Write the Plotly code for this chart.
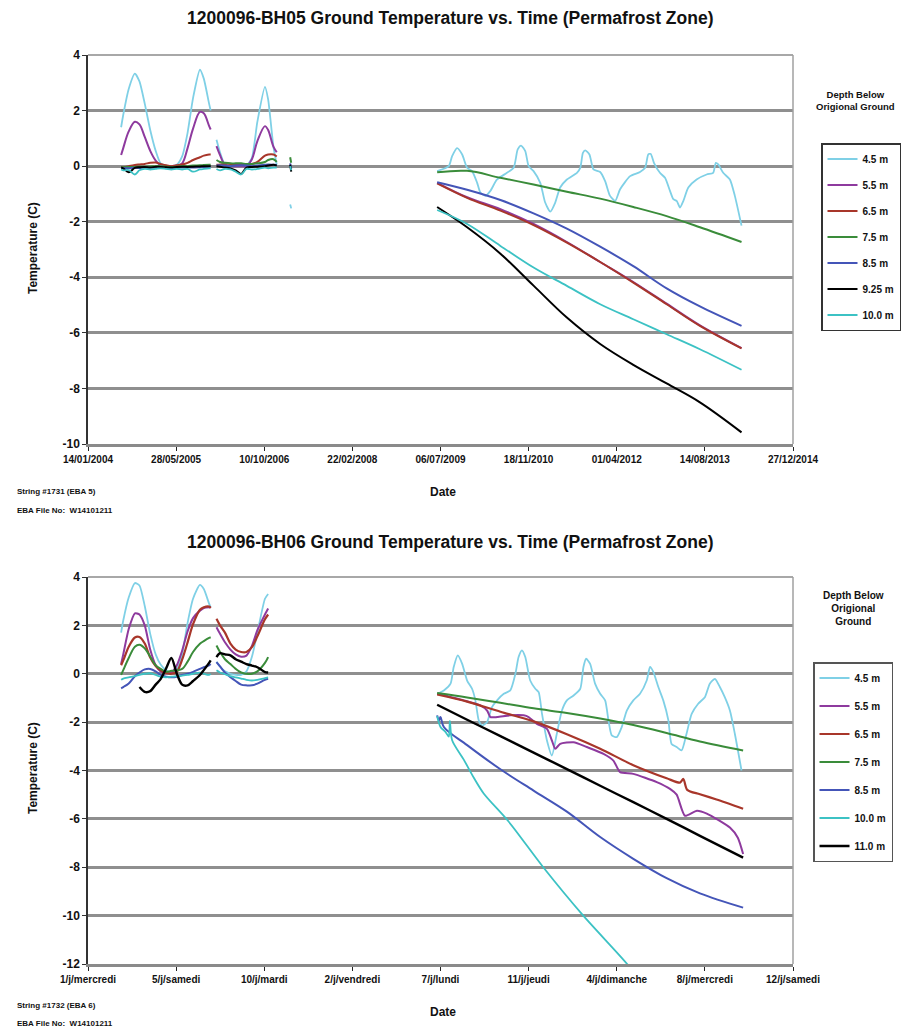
import plotly.graph_objects as go

# ---------------- shared date grids ----------------
EARLY_A_DATES = ["2004-07-20", "2004-08-01", "2004-09-01", "2004-10-06", "2004-11-01", "2004-12-01",
                 "2005-01-01", "2005-02-01", "2005-03-01", "2005-04-01", "2005-05-01", "2005-06-01",
                 "2005-07-01", "2005-08-01", "2005-09-01", "2005-10-10", "2005-11-01", "2005-12-01",
                 "2005-12-10"]
EARLY_B_DATES = ["2006-01-12", "2006-02-01", "2006-03-01", "2006-04-01", "2006-05-01", "2006-06-01",
                 "2006-07-01", "2006-08-01", "2006-09-01", "2006-10-14", "2006-11-01", "2006-12-01",
                 "2006-12-20"]
BLIP_DATES = ["2007-03-06", "2007-03-12"]
LATE_DATES_TOP = ["2009-06-17", "2009-12-04", "2010-06-11", "2010-12-16", "2011-06-23", "2011-12-29",
                  "2012-07-04", "2013-01-09", "2013-07-17", "2014-03-10"]
LATE_DATES_BOT = ["2009-06-17", "2009-12-04", "2010-06-11", "2010-12-16", "2011-06-23", "2011-12-29",
                  "2012-07-04", "2013-01-09", "2013-07-17", "2014-03-19"]

TICK_DATES = ["2004-01-14", "2005-05-28", "2006-10-10", "2008-02-22", "2009-07-06",
              "2010-11-18", "2012-04-01", "2013-08-14", "2014-12-27"]
TICK_TEXT_TOP = ["14/01/2004", "28/05/2005", "10/10/2006", "22/02/2008", "06/07/2009",
                 "18/11/2010", "01/04/2012", "14/08/2013", "27/12/2014"]
TICK_TEXT_BOT = ["1/j/mercredi", "5/j/samedi", "10/j/mardi", "2/j/vendredi", "7/j/lundi",
                 "11/j/jeudi", "4/j/dimanche", "8/j/mercredi", "12/j/samedi"]
Y_TICKS_TOP = [-10, -8, -6, -4, -2, 0, 2, 4]
Y_TICKS_BOT = [-12, -10, -8, -6, -4, -2, 0, 2, 4]

# ---------------- BH05 (top) ----------------
T45_A = [1.4, 1.85, 2.78, 3.33, 3.05, 2.25, 1.3, 0.55, 0.1, 0.02, 0.0, 0.05, 0.35, 1.2, 2.45, 3.47, 3.15, 2.25, 2.0]
T45_B = [0.95, 0.5, 0.05, 0.0, 0.0, 0.0, 0.02, 0.3, 1.6, 2.85, 2.4, 0.7, 0.05]
T45_BLIP = [-1.38, -1.52]
T45_LATE_DATES = ["2009-06-17", "2009-08-22", "2009-09-10", "2009-10-08", "2009-11-06", "2009-12-04",
                  "2010-01-01", "2010-01-30", "2010-02-17", "2010-03-18", "2010-04-15", "2010-05-23",
                  "2010-07-18", "2010-08-25", "2010-09-17", "2010-10-06", "2010-10-30", "2010-11-18",
                  "2010-12-16", "2011-01-23", "2011-02-20", "2011-03-21", "2011-04-18", "2011-05-16",
                  "2011-06-23", "2011-08-19", "2011-09-07", "2011-09-22", "2011-10-05", "2011-10-29",
                  "2011-11-21", "2011-12-29", "2012-01-26", "2012-02-23", "2012-03-23", "2012-04-20",
                  "2012-06-16", "2012-08-11", "2012-09-09", "2012-09-27", "2012-10-11", "2012-10-29",
                  "2012-12-02", "2012-12-31", "2013-01-28", "2013-02-16", "2013-03-07", "2013-03-26",
                  "2013-04-14", "2013-05-12", "2013-06-28", "2013-08-24", "2013-09-30", "2013-10-15",
                  "2013-10-29", "2013-11-26", "2014-01-03", "2014-01-31", "2014-03-10"]
T45_LATE = [-0.18, 0.0, 0.36, 0.65, 0.42, -0.06, -0.18, -0.6, -0.95, -1.07, -0.89, -0.48,
            -0.24, -0.06, 0.6, 0.74, 0.54, 0.0, -0.18, -0.6, -1.31, -1.64, -1.31, -0.77,
            -0.48, -0.24, -0.06, 0.48, 0.57, 0.42, -0.12, -0.21, -0.54, -1.07, -1.25, -0.83,
            -0.36, -0.21, -0.06, 0.42, 0.44, 0.12, -0.24, -0.42, -0.89, -1.19, -1.25, -1.49,
            -1.25, -0.77, -0.48, -0.30, -0.24, 0.12, 0.06, -0.24, -0.48, -1.07, -2.14]

T55_A = [0.4, 0.65, 1.25, 1.6, 1.5, 1.05, 0.55, 0.2, 0.03, 0.0, 0.0, 0.02, 0.1, 0.65, 1.35, 1.95, 1.9, 1.45, 1.32]
T55_B = [0.72, 0.4, 0.05, 0.0, 0.0, 0.0, 0.0, 0.25, 0.9, 1.44, 1.3, 0.7, 0.5]
T55_LATE = [-0.6, -1.12, -1.55, -2.08, -2.73, -3.45, -4.17, -4.95, -5.73, -6.55]

T65_A = [-0.06, -0.04, 0.0, 0.04, 0.06, 0.08, 0.12, 0.13, 0.08, 0.03, 0.0, 0.03, 0.06, 0.12, 0.22, 0.32, 0.38, 0.42, 0.42]
T65_B = [0.05, 0.06, 0.08, 0.08, 0.06, 0.05, 0.06, 0.08, 0.15, 0.38, 0.42, 0.42, 0.35]
T65_LATE = [-0.62, -1.14, -1.6, -2.12, -2.75, -3.45, -4.19, -4.97, -5.75, -6.56]

T75_A = [-0.05, -0.04, -0.03, -0.03, -0.02, -0.02, -0.01, 0.0, 0.0, -0.02, -0.03, -0.02, 0.0, 0.0, 0.02, 0.03, 0.04, 0.05, 0.05]
T75_B = [0.22, 0.15, 0.12, 0.1, 0.1, 0.1, 0.08, 0.08, 0.1, 0.15, 0.22, 0.25, 0.15]
T75_BLIP = [0.32, 0.12]
T75_LATE = [-0.22, -0.17, -0.42, -0.66, -0.92, -1.17, -1.47, -1.80, -2.2, -2.73]

T85_A = [-0.08, -0.07, -0.08, -0.06, -0.07, -0.05, -0.06, -0.05, -0.06, -0.07, -0.08, -0.06, -0.05, -0.04, -0.05, -0.04, -0.03, -0.02, -0.02]
T85_B = [0.02, 0.03, 0.02, 0.0, 0.02, 0.03, 0.02, 0.0, 0.02, 0.05, 0.06, 0.05, 0.04]
T85_BLIP = [0.1, -0.1]
T85_LATE = [-0.58, -0.85, -1.22, -1.7, -2.25, -2.9, -3.6, -4.4, -5.05, -5.75]

T925_A = [-0.05, -0.08, -0.22, -0.06, -0.04, -0.03, -0.05, -0.02, -0.03, -0.04, -0.05, -0.03, -0.02, -0.03, -0.02, -0.01, 0.0, 0.0, 0.01]
T925_B = [0.0, -0.02, -0.05, -0.08, -0.15, -0.28, -0.05, -0.03, -0.02, 0.0, 0.02, 0.05, 0.02]
T925_BLIP = [0.05, -0.2]
T925_LATE = [-1.47, -2.2, -3.15, -4.3, -5.45, -6.4, -7.15, -7.82, -8.5, -9.58]

T100_A = [-0.12, -0.15, -0.14, -0.3, -0.15, -0.1, -0.12, -0.1, -0.08, -0.1, -0.12, -0.1, -0.12, -0.1, -0.2, -0.12, -0.1, -0.08, -0.08]
T100_B = [-0.1, -0.15, -0.1, -0.12, -0.2, -0.3, -0.1, -0.12, -0.1, -0.05, -0.08, -0.05, -0.05]
T100_BLIP = [0.0, -0.15]
T100_LATE = [-1.58, -2.08, -2.87, -3.65, -4.31, -4.97, -5.51, -6.05, -6.59, -7.33]

# ---------------- BH06 (bottom) ----------------
EARLY_B_DATES_BOT = EARLY_B_DATES[:11]

B45_A = [1.7, 2.2, 3.15, 3.75, 3.65, 2.8, 1.65, 0.8, 0.38, 0.15, 0.08, 0.2, 0.8, 2.1, 3.1, 3.67, 3.5, 2.9, 2.75]
B45_B = [0.5, 0.3, 0.1, 0.0, -0.05, -0.05, 0.1, 0.7, 1.7, 3.1, 3.3]
B45_LATE_DATES = ["2009-06-17", "2009-07-25", "2009-09-01", "2009-09-19", "2009-10-12", "2009-11-06",
                  "2009-12-04", "2010-01-01", "2010-01-20", "2010-02-08", "2010-02-27", "2010-03-27",
                  "2010-04-24", "2010-05-23", "2010-06-30", "2010-08-06", "2010-09-04", "2010-09-22",
                  "2010-10-11", "2010-10-30", "2010-11-27", "2010-12-26", "2011-01-14", "2011-02-02",
                  "2011-03-02", "2011-03-30", "2011-04-27", "2011-05-26", "2011-06-23", "2011-07-31",
                  "2011-09-07", "2011-09-25", "2011-10-10", "2011-11-02", "2011-11-30", "2011-12-29",
                  "2012-01-26", "2012-02-14", "2012-03-04", "2012-04-01", "2012-04-29", "2012-05-28",
                  "2012-07-04", "2012-08-11", "2012-09-18", "2012-10-07", "2012-10-26", "2012-11-23",
                  "2012-12-21", "2013-01-19", "2013-02-06", "2013-03-07", "2013-04-04", "2013-05-02",
                  "2013-05-31", "2013-07-07", "2013-08-14", "2013-09-11", "2013-10-10", "2013-11-07",
                  "2013-12-05", "2014-01-03", "2014-01-31", "2014-03-10"]
B45_LATE = [-0.83, -0.69, -0.41, 0.28, 0.76, 0.41, -0.28, -0.62, -1.10, -1.93, -2.14, -2.0,
            -1.38, -1.10, -0.83, -0.69, 0.0, 0.69, 0.97, 0.69, -0.28, -0.62, -0.76, -1.66,
            -2.76, -3.38, -2.48, -1.52, -1.10, -0.90, -0.62, 0.28, 0.62, 0.41, -0.41, -0.83,
            -1.10, -1.93, -2.55, -2.62, -2.21, -1.52, -1.10, -0.83, -0.28, 0.28, 0.07, -0.55,
            -1.10, -1.93, -2.90, -3.03, -3.17, -2.48, -1.66, -1.24, -0.97, -0.41, -0.21, -0.55,
            -0.97, -1.52, -2.48, -4.0]

B55_A = [0.4, 0.8, 1.85, 2.5, 2.45, 2.0, 1.0, 0.35, 0.1, 0.02, 0.05, 0.35, 0.95, 1.75, 2.3, 2.61, 2.72, 2.75, 2.75]
B55_B = [1.92, 1.65, 1.3, 1.0, 0.8, 0.7, 0.75, 1.15, 1.8, 2.45, 2.7]
B55_LATE_DATES = ["2009-06-17", "2009-11-15", "2010-02-17", "2010-03-27", "2010-04-15", "2010-05-23",
                  "2010-08-06", "2010-10-21", "2010-11-18", "2011-01-04", "2011-03-02", "2011-03-30",
                  "2011-04-18", "2011-05-16", "2011-07-31", "2011-10-14", "2012-01-17", "2012-03-13",
                  "2012-04-20", "2012-07-04", "2012-11-14", "2013-01-28", "2013-03-07", "2013-04-23",
                  "2013-06-30", "2013-08-25", "2014-01-03", "2014-02-17", "2014-03-19"]
B55_LATE = [-0.83, -1.10, -1.31, -1.52, -1.79, -1.79, -1.72, -1.72, -1.79, -2.07, -2.28, -2.76,
            -3.10, -2.90, -2.83, -3.03, -3.31, -3.59, -4.07, -4.14, -4.48, -4.76, -5.0, -5.87,
            -5.66, -5.78, -6.36, -6.78, -7.45]

B65_A = [0.35, 0.55, 1.12, 1.5, 1.52, 1.25, 0.67, 0.32, 0.14, 0.03, 0.0, 0.08, 0.58, 1.3, 2.05, 2.65, 2.75, 2.78, 2.72]
B65_B = [2.27, 2.0, 1.7, 1.25, 1.0, 0.9, 0.9, 1.1, 1.55, 2.25, 2.45]
B65_LATE_DATES = ["2009-06-17", "2009-12-04", "2010-06-11", "2010-12-16", "2011-06-23", "2011-12-29",
                  "2012-07-04", "2013-01-09", "2013-03-26", "2013-04-14", "2013-05-06", "2013-07-17",
                  "2013-10-19", "2014-03-19"]
B65_LATE = [-0.86, -1.15, -1.57, -1.97, -2.5, -3.1, -3.78, -4.32, -4.5, -4.35, -4.8, -4.98, -5.2, -5.58]

B75_A = [-0.05, 0.15, 0.65, 1.12, 1.2, 1.05, 0.7, 0.35, 0.2, 0.08, 0.12, 0.14, 0.2, 0.5, 0.9, 1.24, 1.35, 1.48, 1.51]
B75_B = [1.17, 0.9, 0.6, 0.4, 0.2, 0.05, 0.0, 0.0, 0.1, 0.45, 0.69]
B75_LATE = [-0.80, -0.98, -1.20, -1.43, -1.62, -1.85, -2.12, -2.45, -2.80, -3.17]

B85_A = [-0.6, -0.55, -0.4, -0.1, 0.05, 0.18, 0.2, 0.1, -0.05, -0.12, -0.14, -0.12, -0.05, 0.0, 0.08, 0.2, 0.27, 0.35, 0.4]
B85_B = [0.48, 0.3, 0.05, -0.14, -0.3, -0.45, -0.48, -0.48, -0.41, -0.25, -0.21]
B85_LATE_DATES = ["2009-06-17", "2009-06-27", "2009-07-06", "2009-07-25", "2009-12-04", "2010-06-11",
                  "2010-12-16", "2011-06-23", "2011-12-29", "2012-07-04", "2013-01-09", "2013-07-17",
                  "2014-03-19"]
B85_LATE = [-1.72, -1.93, -1.79, -2.2, -2.95, -3.95, -4.83, -5.7, -6.75, -7.65, -8.45, -9.08, -9.67]

B100_A = [-0.25, -0.2, -0.15, -0.1, -0.05, 0.0, 0.02, -0.05, -0.12, -0.15, -0.12, -0.1, -0.08, -0.05, 0.0, 0.05, 0.0, -0.05, 0.0]
B100_B = [0.14, 0.05, -0.02, -0.1, -0.15, -0.2, -0.25, -0.28, -0.25, -0.18, -0.15]
B100_LATE_DATES = ["2009-06-17", "2009-07-06", "2009-08-03", "2009-08-22", "2009-08-28", "2009-09-10",
                   "2009-11-15", "2010-01-11", "2010-03-08", "2010-07-26", "2011-02-09", "2011-09-24",
                   "2012-05-30", "2012-08-11"]
B100_LATE = [-1.75, -2.2, -2.4, -2.6, -1.95, -2.75, -3.55, -4.3, -4.95, -6.1, -8.0, -10.0, -12.0, -12.7]

B110_A = [None, None, None, None, -0.55, -0.75, -0.72, -0.45, -0.22, 0.22, 0.65, 0.0, -0.45, -0.48, -0.3, -0.05, 0.15, 0.45, 0.55]
B110_B = [0.69, 0.85, 0.8, 0.76, 0.6, 0.5, 0.4, 0.34, 0.27, 0.07, 0.05]
B110_LATE = [-1.28, -1.9, -2.58, -3.26, -3.94, -4.63, -5.31, -6.0, -6.7, -7.6]

# ---------------- styling ----------------
C45, C55, C65, C75, C85, CBLK, C100 = "#7fd0e6", "#8e3a9e", "#a8362a", "#3a8c3a", "#4455b8", "#000000", "#3cc2c4"
FONT = "Liberation Sans, Arial, sans-serif"
NARROW = "Liberation Sans Narrow, Liberation Sans, Arial, sans-serif"
W, H = 901, 1036


def build(segments):
    xs, ys = [], []
    for i, (d, v) in enumerate(segments):
        if i > 0:
            xs.append(d[0])
            ys.append(None)
        xs += list(d)
        ys += list(v)
    return xs, ys


fig = go.Figure()

top_series = [
    ("4.5 m", C45, 1.8, 0.6, [(EARLY_A_DATES, T45_A), (EARLY_B_DATES, T45_B), (BLIP_DATES, T45_BLIP), (T45_LATE_DATES, T45_LATE)]),
    ("5.5 m", C55, 2.0, 1.0, [(EARLY_A_DATES, T55_A), (EARLY_B_DATES, T55_B), (LATE_DATES_TOP, T55_LATE)]),
    ("6.5 m", C65, 2.0, 1.0, [(EARLY_A_DATES, T65_A), (EARLY_B_DATES, T65_B), (LATE_DATES_TOP, T65_LATE)]),
    ("7.5 m", C75, 2.0, 1.0, [(EARLY_A_DATES, T75_A), (EARLY_B_DATES, T75_B), (BLIP_DATES, T75_BLIP), (LATE_DATES_TOP, T75_LATE)]),
    ("8.5 m", C85, 2.0, 1.0, [(EARLY_A_DATES, T85_A), (EARLY_B_DATES, T85_B), (BLIP_DATES, T85_BLIP), (LATE_DATES_TOP, T85_LATE)]),
    ("9.25 m", CBLK, 2.0, 1.0, [(EARLY_A_DATES, T925_A), (EARLY_B_DATES, T925_B), (BLIP_DATES, T925_BLIP), (LATE_DATES_TOP, T925_LATE)]),
    ("10.0 m", C100, 1.8, 1.0, [(EARLY_A_DATES, T100_A), (EARLY_B_DATES, T100_B), (BLIP_DATES, T100_BLIP), (LATE_DATES_TOP, T100_LATE)]),
]
for i, (name, col, w, sm, segs) in enumerate(top_series):
    xs, ys = build(segs)
    fig.add_trace(go.Scatter(x=xs, y=ys, name=name, mode="lines", xaxis="x", yaxis="y",
                             line=dict(color=col, width=w, shape="spline", smoothing=sm),
                             connectgaps=False, legend="legend", legendgroup="t%d" % i))

bot_series = [
    ("4.5 m", C45, 1.8, 0.6, [(EARLY_A_DATES, B45_A), (EARLY_B_DATES_BOT, B45_B), (B45_LATE_DATES, B45_LATE)]),
    ("5.5 m", C55, 2.0, 0.6, [(EARLY_A_DATES, B55_A), (EARLY_B_DATES_BOT, B55_B), (B55_LATE_DATES, B55_LATE)]),
    ("6.5 m", C65, 2.2, 0.8, [(EARLY_A_DATES, B65_A), (EARLY_B_DATES_BOT, B65_B), (B65_LATE_DATES, B65_LATE)]),
    ("7.5 m", C75, 2.0, 1.0, [(EARLY_A_DATES, B75_A), (EARLY_B_DATES_BOT, B75_B), (LATE_DATES_BOT, B75_LATE)]),
    ("8.5 m", C85, 2.0, 1.0, [(EARLY_A_DATES, B85_A), (EARLY_B_DATES_BOT, B85_B), (B85_LATE_DATES, B85_LATE)]),
    ("10.0 m", C100, 1.8, 0.8, [(EARLY_A_DATES, B100_A), (EARLY_B_DATES_BOT, B100_B), (B100_LATE_DATES, B100_LATE)]),
    ("11.0 m", CBLK, 2.4, 0.8, [(EARLY_A_DATES, B110_A), (EARLY_B_DATES_BOT, B110_B), (LATE_DATES_BOT, B110_LATE)]),
]
for i, (name, col, w, sm, segs) in enumerate(bot_series):
    xs, ys = build(segs)
    fig.add_trace(go.Scatter(x=xs, y=ys, name=name, mode="lines", xaxis="x2", yaxis="y2",
                             line=dict(color=col, width=w, shape="spline", smoothing=sm),
                             connectgaps=False, legend="legend2", legendgroup="b%d" % i))

X0, X1 = 88 / W, 793 / W
TOP_Y = [1 - 444 / H, 1 - 55 / H]
BOT_Y = [1 - 964 / H, 1 - 577 / H]

xcommon = dict(type="date", range=[TICK_DATES[0], TICK_DATES[-1]], tickmode="array", tickvals=TICK_DATES,
               showgrid=False, zeroline=False, showline=True, linecolor="#8a8a8a", linewidth=3,
               ticks="outside", ticklen=4, tickcolor="#222", tickwidth=1, automargin=False,
               tickfont=dict(family=NARROW, size=10, color="#111", weight="bold"), domain=[X0, X1])
ycommon = dict(showgrid=True, gridcolor="#8f8f8f", gridwidth=2.5, zeroline=False, automargin=False,
               showline=True, linecolor="#333", linewidth=1.5, ticks="outside", ticklen=4, tickmode="array",
               tickcolor="#333", tickfont=dict(family=FONT, size=12, color="#111", weight="bold"))

fig.update_layout(
    width=W, height=H, margin=dict(l=0, r=0, t=0, b=0, pad=0, autoexpand=False),
    paper_bgcolor="white", plot_bgcolor="white", font=dict(family=FONT, color="#111"),
    xaxis=dict(xcommon, anchor="y", ticktext=TICK_TEXT_TOP),
    yaxis=dict(ycommon, anchor="x", domain=TOP_Y, range=[-10, 4], tickvals=Y_TICKS_TOP,
               ticktext=[str(v) for v in Y_TICKS_TOP]),
    xaxis2=dict(xcommon, anchor="y2", ticktext=TICK_TEXT_BOT),
    yaxis2=dict(ycommon, anchor="x2", domain=BOT_Y, range=[-12, 4], tickvals=Y_TICKS_BOT,
                ticktext=[str(v) for v in Y_TICKS_BOT]),
    legend=dict(x=821 / W, y=1 - 143 / H, xanchor="left", yanchor="top", bgcolor="white",
                bordercolor="#333", borderwidth=1.5, font=dict(family=FONT, size=10, weight="bold"),
                tracegroupgap=7, itemwidth=30),
    legend2=dict(x=813 / W, y=1 - 662 / H, xanchor="left", yanchor="top", bgcolor="white",
                 bordercolor="#555", borderwidth=1.5, font=dict(family=FONT, size=10, weight="bold"),
                 tracegroupgap=9, itemwidth=30),
)

# plot-area top and right borders
for xr, yr in (("x domain", "y domain"), ("x2 domain", "y2 domain")):
    fig.add_shape(type="line", xref=xr, yref=yr, x0=0, x1=1, y0=1, y1=1, layer="below",
                  line=dict(color="#a8a8a8", width=2))
    fig.add_shape(type="line", xref=xr, yref=yr, x0=1, x1=1, y0=0, y1=1, line=dict(color="#a0a0a0", width=1.5))


def ann(text, x, y, size, xanchor="center", family=FONT, **kw):
    fig.add_annotation(text=text, x=x / W, y=1 - y / H, xref="paper", yref="paper", showarrow=False,
                       xanchor=xanchor, yanchor="middle",
                       font=dict(family=family, size=size, color="#111", weight="bold"), **kw)


ann("1200096-BH05 Ground Temperature vs. Time (Permafrost Zone)", 450, 18, 17.5)
ann("1200096-BH06 Ground Temperature vs. Time (Permafrost Zone)", 450, 542, 17.5)
ann("Temperature (C)", 33, 248, 12, textangle=-90)
ann("Temperature (C)", 33, 768, 12, textangle=-90)
ann("Date", 443, 492, 12)
ann("Date", 443, 1012, 12)
ann("Depth Below<br>Origional Ground", 855, 100, 9.5)
ann("Depth Below<br>Origional<br>Ground", 853, 608, 10)
ann("String #1731 (EBA 5)", 15, 492, 8, xanchor="left")
ann("EBA File No:  W14101211", 15, 511, 8, xanchor="left")
ann("String #1732 (EBA 6)", 15, 1005, 8, xanchor="left")
ann("EBA File No:  W14101211", 15, 1023, 8, xanchor="left")

fig.write_html("out.html", config={"displayModeBar": False},
               post_script="document.body.style.margin='0';")
